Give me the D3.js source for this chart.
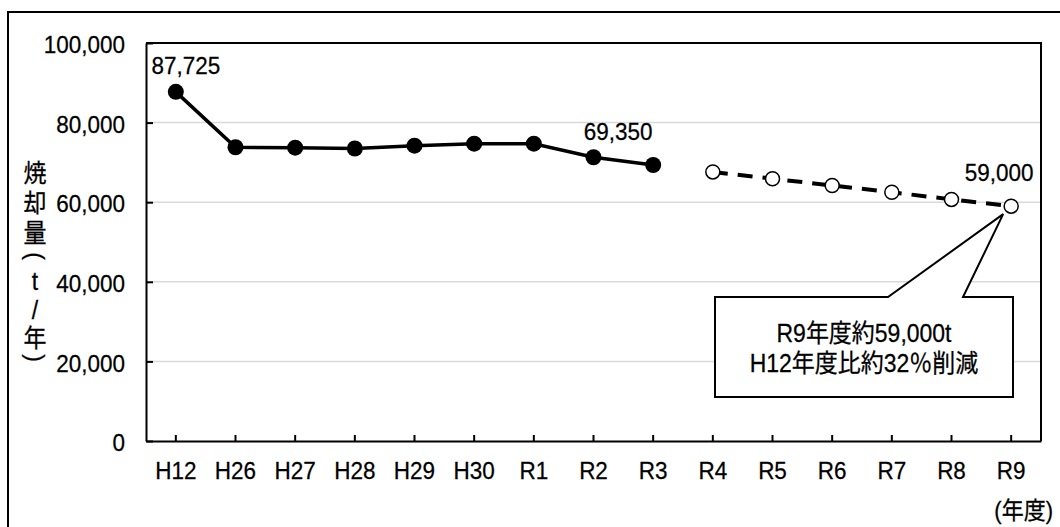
<!DOCTYPE html>
<html><head><meta charset="utf-8">
<script src="https://cdn.jsdelivr.net/npm/d3@7"></script>
<style>
html,body{margin:0;padding:0;background:#fff;}
svg{display:block;}
text{font-family:"Liberation Sans",Arial,"Noto Sans CJK JP",sans-serif;fill:#000;stroke:#000;stroke-width:0.25px;}
text.st{transform-box:fill-box;transform-origin:center;transform:scaleY(1.1);}
</style></head>
<body>
<svg id="chart" width="1060" height="527"></svg>
<script>
// ---- data ----
const categories = ["H12","H26","H27","H28","H29","H30","R1","R2","R3","R4","R5","R6","R7","R8","R9"];
const actualYears = ["H12","H26","H27","H28","H29","H30","R1","R2","R3"];
const actualValues = [87725, 73800, 73700, 73500, 74200, 74700, 74700, 71300, 69350];
const targetYears = ["R4","R5","R6","R7","R8","R9"];
const targetValues = [67600, 65900, 64200, 62500, 60700, 59000];
const yTicks = [0, 20000, 40000, 60000, 80000, 100000];
const labeledPoints = ["H12","R3","R9"];
const yTitleChars = ["焼","却","量","(","t","/","年",")"];
const xUnit = "(年度)";
const calloutLines = ["R9年度約59,000t","H12年度比約32％削減"];

// ---- layout ----
const svg = d3.select("#chart");
const L = 146, R = 1041, T = 43, B = 441;
const x = d3.scaleBand().domain(categories).range([L, R]);
const cx = c => x(c) + x.bandwidth()/2;
const y = d3.scaleLinear().domain([0, 100000]).range([B, T]);
const fs = 22.5;

// outer frame
svg.append("path").attr("d","M8,527V12H1060").attr("fill","none").attr("stroke","#000").attr("stroke-width",2);

// gridlines
svg.append("g").selectAll("line").data(yTicks.filter(v => v > 0 && v < 100000)).join("line")
  .attr("x1", L).attr("x2", R).attr("y1", d => y(d)).attr("y2", d => y(d))
  .attr("stroke","#d9d9d9").attr("stroke-width",1.5);

// plot border top/right
svg.append("path").attr("d",`M${L},${T}H${R}V${B}`).attr("fill","none").attr("stroke","#000").attr("stroke-width",2);

// y axis
const ya = svg.append("g").attr("transform",`translate(${L},0)`)
  .call(d3.axisLeft(y).tickValues(yTicks).tickFormat(d3.format(",")).tickSize(-7).tickSizeOuter(0).tickPadding(21));
ya.selectAll("text").attr("font-size",fs).attr("dy","0.4em").attr("class","st").style("font-family",null);
ya.selectAll("line").attr("stroke","#000").attr("stroke-width",2);
ya.select(".domain").attr("stroke","#000").attr("stroke-width",2);

// x axis
const xa = svg.append("g").attr("transform",`translate(0,${B})`)
  .call(d3.axisBottom(x).tickSize(-6).tickSizeOuter(0).tickPadding(21));
xa.selectAll("text").attr("font-size",fs).attr("class","st").style("font-family",null);
xa.selectAll("line").attr("stroke","#000").attr("stroke-width",2);
xa.select(".domain").attr("stroke","#000").attr("stroke-width",2);

// y title (vertical)
const yTitlePos = [173, 203, 233, 256, 281, 310, 338, 358];
yTitleChars.forEach((ch, i) => {
  const t = svg.append("text").attr("text-anchor","middle").attr("dominant-baseline","central")
    .attr("font-size",23).text(ch);
  if (ch === "(" || ch === ")") t.attr("transform",`translate(35,${yTitlePos[i]}) rotate(90)`);
  else t.attr("x",35).attr("y",yTitlePos[i]).attr("class","st");
});

// x unit
svg.append("text").attr("x",1053).attr("y",518).attr("text-anchor","end").attr("font-size",22).attr("class","st").text(xUnit);

// lines and markers
const line = d3.line().x(d => cx(d[0])).y(d => y(d[1]));
const actual = actualYears.map((c,i) => [c, actualValues[i]]);
const target = targetYears.map((c,i) => [c, targetValues[i]]);
svg.append("path").datum(actual).attr("d",line).attr("fill","none").attr("stroke","#000").attr("stroke-width",3.5);
svg.append("path").datum(target).attr("d",line).attr("fill","none").attr("stroke","#000").attr("stroke-width",4).attr("stroke-dasharray","15,10");
svg.append("g").selectAll("circle").data(actual).join("circle")
  .attr("cx", d => cx(d[0])).attr("cy", d => y(d[1])).attr("r",8).attr("fill","#000");
svg.append("g").selectAll("circle").data(target).join("circle")
  .attr("cx", d => cx(d[0])).attr("cy", d => y(d[1])).attr("r",7).attr("fill","#fff").attr("stroke","#000").attr("stroke-width",1.5);

// data labels
const all = actual.concat(target);
const labelOffsets = {"H12":[10,-19], "R3":[-35,-26], "R9":[-12,-26]};
svg.append("g").selectAll("text").data(all.filter(d => labeledPoints.includes(d[0]))).join("text")
  .attr("x", d => cx(d[0]) + labelOffsets[d[0]][0])
  .attr("y", d => y(d[1]) + labelOffsets[d[0]][1])
  .attr("class","st")
  .attr("text-anchor","middle").attr("font-size",fs).text(d => d3.format(",")(d[1]));

// callout
const tip = target[target.length-1];
const tx = cx(tip[0]) - 8, ty = y(tip[1]) + 8;
const bx0 = 715, bx1 = 1013, by0 = 297, by1 = 397, px0 = 888, px1 = 963;
svg.append("path")
  .attr("d",`M${bx0},${by0}H${px0}L${tx},${ty}L${px1},${by0}H${bx1}V${by1}H${bx0}Z`)
  .attr("fill","#fff").attr("stroke","#000").attr("stroke-width",2);
calloutLines.forEach((s,i) => {
  svg.append("text").attr("x",(bx0+bx1)/2).attr("y",341 + i*30).attr("text-anchor","middle")
    .attr("class","st").attr("font-size",23).text(s);
});
</script>
</body></html>
